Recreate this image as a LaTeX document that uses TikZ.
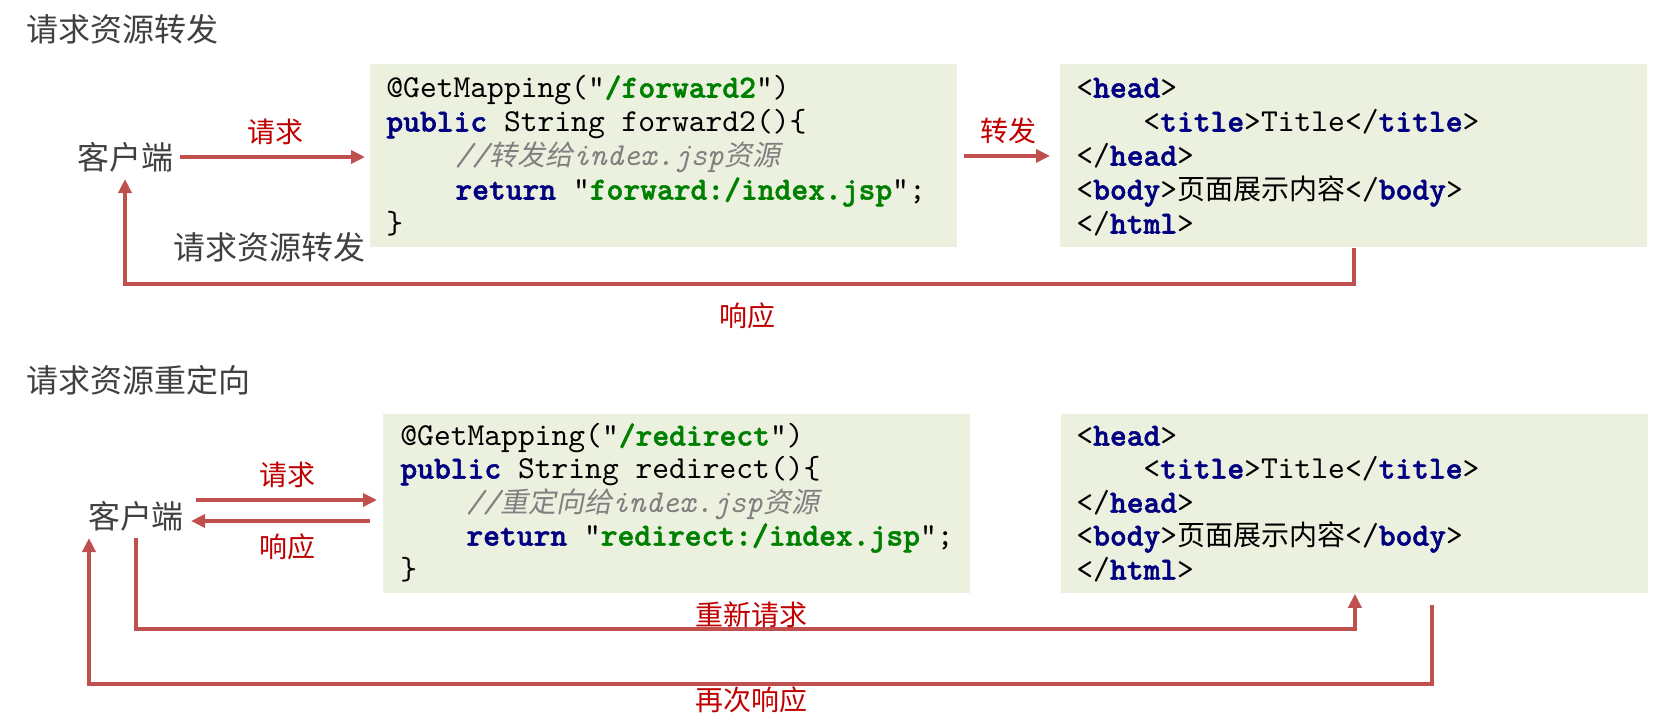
\documentclass[tikz,border=0pt]{standalone}
\usepackage{fontspec}
\setmonofont{lmmono10-regular.otf}[BoldFont=lmmonolt10-bold.otf, BoldFeatures={FakeBold=1.6}, ItalicFont=lmmono10-italic.otf]
\newfontfamily\cjk{Noto Sans CJK SC}
\newfontfamily\cjkslant[FakeSlant=0.2]{Noto Sans CJK SC}
\usetikzlibrary{arrows.meta,positioning}

\definecolor{arrowred}{RGB}{192,80,77}
\definecolor{labelred}{RGB}{192,0,0}
\definecolor{boxgreen}{RGB}{235,241,222}
\definecolor{titlegray}{RGB}{64,64,64}
\definecolor{kwnavy}{RGB}{0,0,128}
\definecolor{litgreen}{RGB}{0,128,0}
\definecolor{cmtgray}{RGB}{128,128,128}

\newcommand{\kwd}[1]{\textcolor{kwnavy}{\bfseries #1}}
\newcommand{\lit}[1]{\textcolor{litgreen}{\bfseries #1}}
\newcommand{\cmt}[1]{\textcolor{cmtgray}{\itshape #1}}

\tikzset{
  flow/.style={draw=arrowred, line width=1.7pt, -{Triangle[length=7pt,width=6.5pt]}},
  codebox/.style={fill=boxgreen, anchor=north west, inner sep=0pt, minimum width=293.5pt, minimum height=91.5pt},
  codeline/.style={anchor=west, inner sep=0pt, text height=12pt, text depth=1.5pt, font=\ttfamily\fontsize{16}{16}\selectfont},
  heading/.style={anchor=west, text=titlegray, font=\cjk\fontsize{16}{16}\selectfont},
  client/.style={text=titlegray, font=\cjk\fontsize{16}{16}\selectfont},
  flowlabel/.style={text=labelred, font=\cjk\fontsize{14}{14}\selectfont},
}

\begin{document}
\begin{tikzpicture}[x=0.5pt,y=-0.5pt]
\useasboundingbox (0,0) rectangle (1667,724);

% forward
\node[heading] (fwdtitle) at (19,29) {请求资源转发};
\node[client] (client1) at (125,157) {客户端};
\node[client] (fwdcaption) at (269,247) {请求资源转发};

\node[codebox] (code1) at (370,64) {};
\node[codeline] (fwd1) at (386,87) {@GetMapping("\lit{/forward2}")};
\node[codeline] (fwd2) at (386,121) {\kwd{public} String forward2()\{};
\node[codeline] (fwd3) at (455,155) {\cmt{//{\cjkslant\upshape\fontsize{14}{14}\selectfont 转发给}index.jsp{\cjkslant\upshape\fontsize{14}{14}\selectfont 资源}}};
\node[codeline] (fwd4) at (455,189) {\kwd{return} "\lit{forward:/index.jsp}";};
\node[codeline] (fwd5) at (386,223) {\}};

\node[codebox] (page1) at (1060,64) {};
\node[codeline] (pg1a) at (1076,87) {<\kwd{head}>};
\node[codeline] (pg1b) at (1143,121) {<\kwd{title}>Title</\kwd{title}>};
\node[codeline] (pg1c) at (1076,155) {</\kwd{head}>};
\node[codeline] (pg1d) at (1076,189) {<\kwd{body}>{\cjk\fontsize{14}{14}\selectfont 页面展示内容}</\kwd{body}>};
\node[codeline] (pg1e) at (1076,223) {</\kwd{html}>};

\draw[flow, shorten >=2.5pt] (client1) -- node[flowlabel, above=2pt] (req1) {请求} (code1.west |- client1);
\draw[flow, shorten <=3pt, shorten >=5pt] (code1.east) -- node[flowlabel, above=2pt] (fwdlbl) {转发} (page1.west);
\draw[flow] (page1.south) -- ++(0,36) -| (client1.south);
\node[flowlabel] (resp1) at (747,316) {响应};

% redirect
\node[heading] (rdtitle) at (19,380) {请求资源重定向};
\node[client] (client2) at (136,516) {客户端};

\node[codebox, minimum height=89.5pt] (code2) at (383,414) {};
\node[codeline] (rd1) at (400,435) {@GetMapping("\lit{/redirect}")};
\node[codeline] (rd2) at (400,468) {\kwd{public} String redirect()\{};
\node[codeline] (rd3) at (466,502) {\cmt{//{\cjkslant\upshape\fontsize{14}{14}\selectfont 重定向给}index.jsp{\cjkslant\upshape\fontsize{14}{14}\selectfont 资源}}};
\node[codeline] (rd4) at (466,535) {\kwd{return} "\lit{redirect:/index.jsp}";};
\node[codeline] (rd5) at (400,569) {\}};

\node[codebox, minimum height=89.5pt] (page2) at (1061,414) {};
\node[codeline] (pg2a) at (1076,435) {<\kwd{head}>};
\node[codeline] (pg2b) at (1143,468) {<\kwd{title}>Title</\kwd{title}>};
\node[codeline] (pg2c) at (1076,502) {</\kwd{head}>};
\node[codeline] (pg2d) at (1076,535) {<\kwd{body}>{\cjk\fontsize{14}{14}\selectfont 页面展示内容}</\kwd{body}>};
\node[codeline] (pg2e) at (1076,569) {</\kwd{html}>};

\draw[flow, shorten <=2.5pt, shorten >=3pt] (client2.east |- 0,500) -- node[flowlabel, above=2pt] (req2) {请求} (code2.west |- 0,500);
\draw[flow, shorten <=6.5pt] (code2.west |- 0,521) -- node[flowlabel, below=2pt] (resp2) {响应} (client2.east |- 0,521);

\draw[flow] (client2.south) |- ([yshift=-17.5pt]page2.south) -- (page2.south);
\node[flowlabel] (again1) at (751,615) {重新请求};
\draw[flow] ([xshift=38.5pt,yshift=-5.5pt]page2.south) -- ++(0,79) -| ([xshift=-23.5pt]client2.south);
\node[flowlabel] (again2) at (751,700) {再次响应};
\end{tikzpicture}
\end{document}
